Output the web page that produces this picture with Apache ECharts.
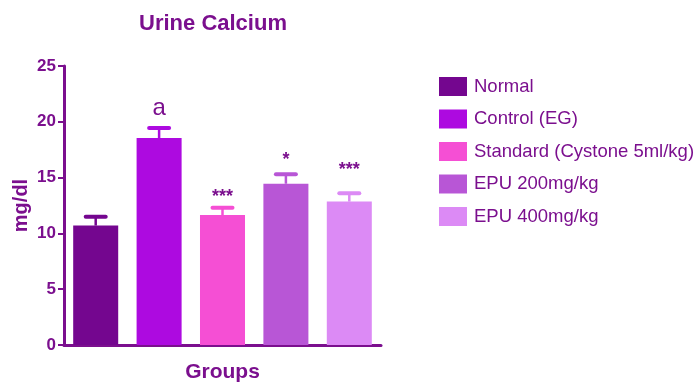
<!DOCTYPE html>
<html><head><meta charset="utf-8">
<script src="https://cdn.jsdelivr.net/npm/echarts@6/dist/echarts.min.js"></script>
<style>html,body{margin:0;padding:0;background:#fff}#c{width:699px;height:382px}</style>
</head><body><div id="c"></div>
<script>
var groups = ['Normal', 'Control (EG)', 'Standard (Cystone 5ml/kg)', 'EPU 200mg/kg', 'EPU 400mg/kg'];
var means = [10.7, 18.55, 11.65, 14.45, 12.85];
var errors = [0.8, 0.9, 0.65, 0.85, 0.75];
var marks = ['', 'a', '***', '*', '***'];
var markY = [0, 21.2, 13.7, 17.0, 16.1];
var colors = ['#74068f', '#ad0ae0', '#f54fd4', '#b856d6', '#dc8af5'];
var yTicks = [0, 5, 10, 15, 20, 25];

var purple = '#7b0f8e';
var chart = echarts.init(document.getElementById('c'));
var series = groups.map(function (g, i) {
  return {
    name: g, type: 'bar', barGap: '-100%', barCategoryGap: '29%',
    itemStyle: { color: colors[i] },
    data: means.map(function (v, j) { return j === i ? v : '-'; })
  };
});
series.push({
  type: 'custom', name: 'err', z: 5,
  data: means.map(function (v, i) { return [i, v, v + errors[i], markY[i]]; }),
  renderItem: function (params, api) {
    var i = api.value(0);
    var lo = api.coord([i, api.value(1)]);
    var hi = api.coord([i, api.value(2)]);
    var mp = api.coord([i, api.value(3)]);
    var c = colors[i];
    var children = [
      { type: 'line', shape: { x1: lo[0], y1: lo[1], x2: hi[0], y2: hi[1] }, style: { stroke: c, lineWidth: 2.5 } },
      { type: 'line', shape: { x1: hi[0] - 10, y1: hi[1], x2: hi[0] + 10, y2: hi[1] }, style: { stroke: c, lineWidth: 4, lineCap: 'round' } }
    ];
    var m = marks[i];
    if (m) {
      var isA = m === 'a';
      children.push({ type: 'text', x: mp[0], y: mp[1] + (isA ? 0 : 5),
        style: { text: m, fill: purple, align: 'center', verticalAlign: 'middle',
          font: (isA ? 'normal 24px' : 'bold 18px') + ' "Liberation Sans", Arial, sans-serif' } });
    }
    return { type: 'group', children: children };
  }
});
chart.setOption({
  animation: false,
  textStyle: { fontFamily: '"Liberation Sans", Arial, sans-serif' },
  title: { text: 'Urine Calcium', left: 208, top: 8, textAlign: 'center',
    textStyle: { color: purple, fontSize: 22, fontWeight: 'bold' } },
  legend: {
    orient: 'vertical', left: 434, top: 72, itemWidth: 28, itemHeight: 19, itemGap: 13.5,
    data: groups, icon: 'rect',
    textStyle: { color: purple, fontSize: 18.5, padding: [0, 0, 0, 2] }
  },
  grid: { left: 64, right: 318, top: 66, bottom: 37, outerBoundsMode: 'none', containLabel: false },
  xAxis: {
    type: 'category', data: groups,
    name: 'Groups', nameLocation: 'middle', nameGap: 17,
    nameTextStyle: { color: purple, fontSize: 21, fontWeight: 'bold', verticalAlign: 'top' },
    axisLine: { lineStyle: { color: purple, width: 3 } },
    axisTick: { alignWithLabel: true, length: 9, lineStyle: { color: purple, width: 2 } },
    axisLabel: { show: false }
  },
  yAxis: {
    type: 'value', min: 0, max: 25, interval: 5,
    name: 'mg/dl', nameLocation: 'middle', nameGap: 33, nameRotate: 90,
    nameTextStyle: { color: purple, fontSize: 20, fontWeight: 'bold' },
    axisLine: { show: true, lineStyle: { color: purple, width: 3 } },
    axisTick: { show: true, length: 6, lineStyle: { color: purple, width: 2 } },
    axisLabel: { color: purple, fontSize: 17, fontWeight: 'bold', margin: 8,
      formatter: function (v) { return yTicks.indexOf(v) >= 0 ? String(v) : ''; } },
    splitLine: { show: false }
  },
  series: series
});
</script></body></html>
